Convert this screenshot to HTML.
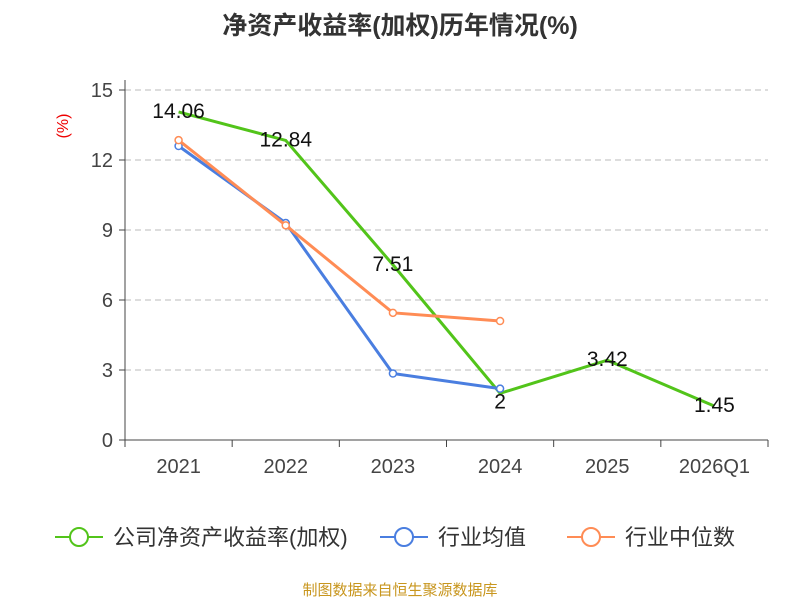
<!DOCTYPE html>
<html><head><meta charset="utf-8"><style>
body{margin:0;background:#fff;width:800px;height:600px;overflow:hidden;font-family:"Liberation Sans","Noto Sans CJK SC",sans-serif}
</style></head><body>
<svg id="chart" width="800" height="600" xmlns="http://www.w3.org/2000/svg" font-family="Liberation Sans, Noto Sans CJK SC, sans-serif">
<text x="400" y="34" text-anchor="middle" font-size="25" font-weight="bold" fill="#333">净资产收益率(加权)历年情况(%)</text>
<text x="68" y="126" font-size="16" fill="#e00" transform="rotate(-90 68 126)" text-anchor="middle">(%)</text>
<g id="grid"></g><g id="axes"></g><g id="series"></g>
<g>
<g><line x1="55" y1="537" x2="103" y2="537" stroke="#52c41a" stroke-width="2"/><circle cx="79" cy="537" r="9" fill="#fff" stroke="#52c41a" stroke-width="2"/><text x="113" y="545" font-size="22" fill="#333">公司净资产收益率(加权)</text></g>
<g><line x1="380" y1="537" x2="428" y2="537" stroke="#4a7ee0" stroke-width="2"/><circle cx="404" cy="537" r="9" fill="#fff" stroke="#4a7ee0" stroke-width="2"/><text x="438" y="545" font-size="22" fill="#333">行业均值</text></g>
<g><line x1="567" y1="537" x2="615" y2="537" stroke="#ff8c55" stroke-width="2"/><circle cx="591" cy="537" r="9" fill="#fff" stroke="#ff8c55" stroke-width="2"/><text x="625" y="545" font-size="22" fill="#333">行业中位数</text></g>
</g>
<text x="400" y="595" text-anchor="middle" font-size="15" fill="#c8961e">制图数据来自恒生聚源数据库</text>
</svg>
<script>
const categories=["2021","2022","2023","2024","2025","2026Q1"];
const companyValues=[14.06,12.84,7.51,2,3.42,1.45];
const industryAvg=[12.6,9.3,2.85,2.2];
const industryMedian=[12.85,9.2,5.45,5.1];
const yTicks=[0,3,6,9,12,15];
const NS="http://www.w3.org/2000/svg";
const L=125,R=768,T=90,B=440,yMax=15;
const bw=(R-L)/categories.length;
const x=i=>L+bw*(i+0.5);
const y=v=>B-(v/yMax)*(B-T);
function mk(tag,attrs,parent){const e=document.createElementNS(NS,tag);for(const k in attrs)e.setAttribute(k,attrs[k]);document.getElementById(parent).appendChild(e);return e;}
yTicks.forEach(t=>{
 if(t>0){const g=mk('line',{x1:L,x2:R,y1:y(t),y2:y(t),stroke:'#bbb','stroke-dasharray':'6,4'},'grid');
 
 }
 const tk=mk('line',{x1:L-6,x2:L,y1:y(t),y2:y(t),stroke:'#444'},'axes');
 
 
 const lb=mk('text',{x:L-12,y:y(t)+7,'text-anchor':'end','font-size':20,fill:'#444'},'axes');lb.textContent=t;
 
 
});
const ya=mk('line',{x1:L,x2:L,y1:T-10,y2:B,stroke:'#444'},'axes');


const xa=mk('line',{x1:L,x2:R,y1:B,y2:B,stroke:'#444'},'axes');


for(let i=0;i<=categories.length;i++){const tk=mk('line',{x1:L+bw*i,x2:L+bw*i,y1:B,y2:B+7,stroke:'#444'},'axes');
 
 }
categories.forEach((c,i)=>{const lb=mk('text',{x:x(i),y:B+33,'text-anchor':'middle','font-size':20,fill:'#444'},'axes');lb.textContent=c;
 
 });
function series(vals,color,name,markers){
 const p=mk('polyline',{points:vals.map((v,i)=>x(i)+','+y(v)).join(' '),fill:'none',stroke:color,'stroke-width':3},'series');
 
 
 if(markers)vals.forEach((v,i)=>{const c=mk('circle',{cx:x(i),cy:y(v),r:3.5,fill:'#fff',stroke:color,'stroke-width':1.5},'series');
  
  });
}
series(companyValues,'#52c41a','company',false);
series(industryAvg,'#4a7ee0','industry-avg',true);
series(industryMedian,'#ff8c55','industry-median',true);
companyValues.forEach((v,i)=>{const t=mk('text',{x:x(i),y:y(v)+(i===3?15:6),'text-anchor':'middle','font-size':21,fill:'#111'},'series');t.textContent=v;
 
 });
</script>
</body></html>
